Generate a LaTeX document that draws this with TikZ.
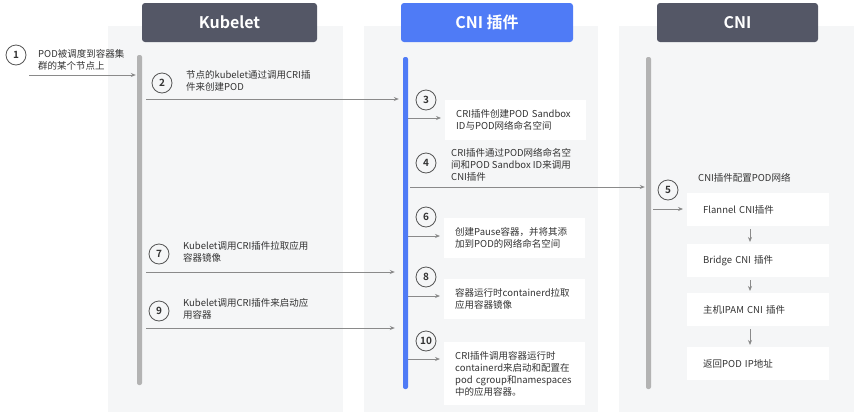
\documentclass[tikz,border=0pt]{standalone}
\usepackage{fontspec}
\newfontfamily\cjk{Noto Sans CJK SC}[BoldFont={Noto Sans CJK SC Bold}]
\usetikzlibrary{arrows.meta}
\definecolor{colbg}{HTML}{F5F6F7}
\definecolor{hdark}{HTML}{545766}
\definecolor{hblue}{HTML}{4F7BF6}
\definecolor{bargray}{HTML}{B3B3B3}
\definecolor{linegray}{HTML}{8A8A8A}
\definecolor{txt}{HTML}{333333}
\definecolor{ringc}{HTML}{555555}
\begin{document}
\begin{tikzpicture}[x=1pt,y=-1pt,
  header/.style={rounded corners=3pt, minimum height=39pt, inner sep=0pt, text=white,
    font=\cjk\bfseries\fontsize{16}{16}\selectfont},
  lifebar/.style={rounded corners=2pt, minimum width=5pt, inner sep=0pt},
  num/.style={circle, draw=ringc, line width=0.8pt, minimum size=20pt, inner sep=0pt,
    text=txt, font=\cjk\bfseries\fontsize{10}{10}\selectfont},
  lbl/.style={anchor=west, align=left, inner sep=0pt, text=txt,
    font=\cjk\fontsize{9.5}{12}\selectfont},
  wbox/.style={anchor=north west, fill=white, minimum width=141pt, minimum height=40pt,
    inner xsep=11pt, inner ysep=0pt, text width=119pt, align=left, text=txt,
    font=\cjk\fontsize{9.5}{12}\selectfont},
  cbox/.style={anchor=north west, fill=white, minimum width=142pt, minimum height=33pt,
    inner xsep=16pt, inner ysep=0pt, text width=110pt, align=left, text=txt,
    font=\cjk\fontsize{9.5}{12}\selectfont},
  flow/.style={draw=linegray, line width=0.8pt, -{Stealth[length=5pt,width=4pt]}},
]
\useasboundingbox (0,0) rectangle (865,418);
% column backgrounds
\fill[colbg] (108,26) rectangle (343,412);
\fill[colbg] (364,26) rectangle (598,412);
\fill[colbg] (619,26) rectangle (854,412);
% headers
\node[header, fill=hdark, minimum width=175pt] (hk) at (229.5,22.5) {Kubelet};
\node[header, fill=hblue, minimum width=172pt] (hc) at (487,22.5) {CNI 插件};
\node[header, fill=hdark, minimum width=161pt] (hn) at (737.5,22.5) {CNI};
% lifelines
\node[lifebar, fill=bargray, minimum height=330pt] (kbar) at (139.5,220) {};
\node[lifebar, fill=hblue, minimum height=332pt] (cbar) at (405.5,223) {};
\node[lifebar, fill=bargray, minimum height=332pt] (nbar) at (648.5,223) {};

% step 1
\node[num] (n1) at (16,55) {1};
\node[lbl] (t1) at (38,59.5) {POD被调度到容器集\\群的某个节点上};
\coordinate (s1) at (29,75);
\draw[flow, shorten >=1pt] (s1) -- (kbar.west |- s1);

% step 2
\node[num] (n2) at (162,83) {2};
\node[lbl] (t2) at (186,81) {节点的kubelet通过调用CRI插\\件来创建POD};
\coordinate (s2) at (146,99);
\draw[flow, shorten >=4pt] (s2) -- (cbar.west |- s2);

% step 3
\node[num] (n3) at (426,100) {3};
\node[wbox] (b3) at (445,100) {CRI插件创建POD Sandbox\\ID与POD网络命名空间};
\coordinate (s3) at (408,118);
\draw[flow, shorten >=4pt] (s3) -- (b3.west |- s3);

% step 4
\node[num] (n4) at (426,163) {4};
\node[lbl] (t4) at (451,165) {CRI插件通过POD网络命名空\\间和POD Sandbox ID来调用\\CNI插件};
\coordinate (s4) at (410,187);
\draw[flow, shorten >=1pt] (s4) -- (nbar.west |- s4);

% step 5
\node[num] (n5) at (668,190) {5};
\node[lbl] (t5) at (698,178) {CNI插件配置POD网络};
\node[cbox] (f1) at (687,193) {Flannel CNI插件};
\node[cbox] (f2) at (687,244) {Bridge CNI 插件};
\node[cbox] (f3) at (687,293) {主机IPAM CNI 插件};
\node[cbox] (f4) at (687,347) {返回POD IP地址};
\coordinate (s5) at (653,209);
\draw[flow, shorten >=4pt] (s5) -- (f1.west |- s5);
\draw[flow, shorten <=3pt, shorten >=2pt] (f1.south -| 750,0) -- (f2.north -| 750,0);
\draw[flow, shorten <=3pt, shorten >=2pt] (f2.south -| 750,0) -- (f3.north -| 750,0);
\draw[flow, shorten <=3pt, shorten >=2pt] (f3.south -| 750,0) -- (f4.north -| 750,0);

% step 6
\node[num] (n6) at (426,217) {6};
\node[wbox] (b6) at (444,218) {创建Pause容器，并将其添\\加到POD的网络命名空间};
\coordinate (s6) at (408,236);
\draw[flow, shorten >=4pt] (s6) -- (b6.west |- s6);

% step 7
\node[num] (n7) at (159,254) {7};
\node[lbl] (t7) at (183,252) {Kubelet调用CRI插件拉取应用\\容器镜像};
\coordinate (s7) at (146,272);
\draw[flow, shorten >=8pt] (s7) -- (cbar.west |- s7);

% step 8
\node[num] (n8) at (426,277) {8};
\node[wbox] (b8) at (444,279) {容器运行时containerd拉取\\应用容器镜像};
\coordinate (s8) at (408,296);
\draw[flow, shorten >=4pt] (s8) -- (b8.west |- s8);

% step 9
\node[num] (n9) at (159,311) {9};
\node[lbl] (t9) at (183,309) {Kubelet调用CRI插件来启动应\\用容器};
\coordinate (s9) at (146,328);
\draw[flow, shorten >=8pt] (s9) -- (cbar.west |- s9);

% step 10
\node[num] (n10) at (426,341) {10};
\node[wbox, minimum height=63pt] (b10) at (444,342) {CRI插件调用容器运行时\\containerd来启动和配置在\\pod cgroup和namespaces\\中的应用容器。};
\coordinate (s10) at (408,359);
\draw[flow, shorten >=4pt] (s10) -- (b10.west |- s10);
\end{tikzpicture}
\end{document}
